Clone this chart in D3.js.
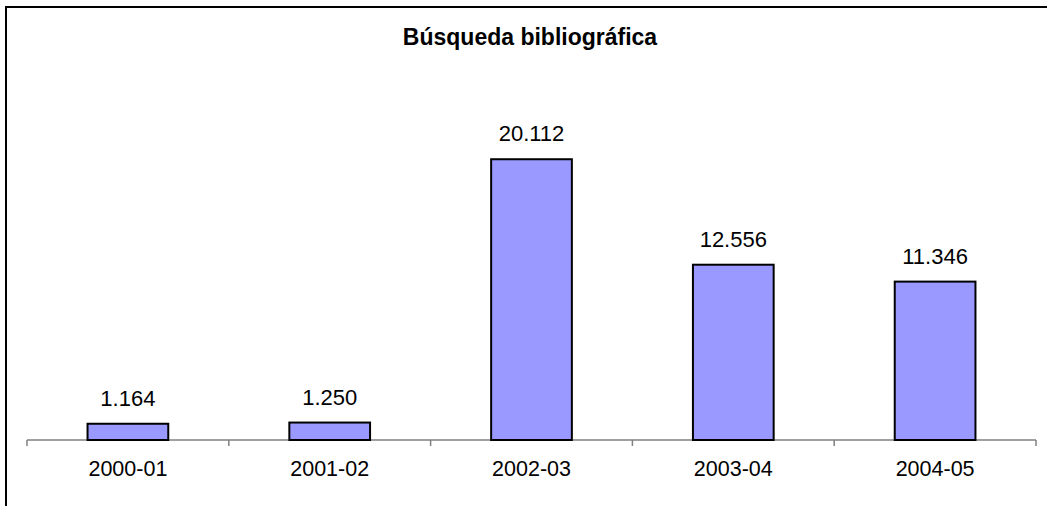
<!DOCTYPE html>
<html>
<head>
<meta charset="utf-8">
<script src="https://cdn.jsdelivr.net/npm/d3@7"></script>
<style>
  body { margin: 0; background: #fff; }
  svg { display: block; }
  text { font-family: Arial, "Liberation Sans", sans-serif; fill: #000; }
</style>
</head>
<body>
<svg id="chart" width="1047" height="506"></svg>
<script>
var categories = ["2000-01", "2001-02", "2002-03", "2003-04", "2004-05"];
var values = [1164, 1250, 20112, 12556, 11346];
var valueLabels = ["1.164", "1.250", "20.112", "12.556", "11.346"];
var chartTitle = "Búsqueda bibliográfica";

var svg = d3.select("#chart");

// outer frame (only left and top edges fall inside the picture)
svg.append("rect")
    .attr("x", 6).attr("y", 7)
    .attr("width", 1080).attr("height", 540)
    .attr("fill", "none")
    .attr("stroke", "#000")
    .attr("stroke-width", 2);

var x = d3.scaleBand()
    .domain(categories)
    .range([27, 1036])
    .paddingInner(0.6)
    .paddingOuter(0.3);

var y = d3.scaleLinear()
    .domain([0, 25000])
    .range([440, 91]);

// axis line with ticks at category boundaries
var edges = d3.range(categories.length + 1).map(function (i) { return 27 + i * (1036 - 27) / categories.length; });

svg.append("line")
    .attr("x1", 27).attr("x2", 1036)
    .attr("y1", y(0)).attr("y2", y(0))
    .attr("stroke", "#808080")
    .attr("stroke-width", 1.5);

svg.selectAll(".tick")
    .data(edges)
    .enter().append("line")
    .attr("x1", function (d) { return d; })
    .attr("x2", function (d) { return d; })
    .attr("y1", y(0))
    .attr("y2", y(0) + 6)
    .attr("stroke", "#808080")
    .attr("stroke-width", 1.5);

// bars
svg.selectAll(".bar")
    .data(values)
    .enter().append("rect")
    .attr("x", function (d, i) { return x(categories[i]); })
    .attr("y", function (d) { return y(d); })
    .attr("width", x.bandwidth())
    .attr("height", function (d) { return y(0) - y(d); })
    .attr("fill", "#9999ff")
    .attr("stroke", "#000")
    .attr("stroke-width", 2);

// value labels
svg.selectAll(".val")
    .data(values)
    .enter().append("text")
    .attr("x", function (d, i) { return x(categories[i]) + x.bandwidth() / 2; })
    .attr("y", function (d) { return y(d) - 18; })
    .attr("text-anchor", "middle")
    .style("font-size", "22px")
    .text(function (d, i) { return valueLabels[i]; });

// category labels
svg.selectAll(".cat")
    .data(categories)
    .enter().append("text")
    .attr("x", function (d) { return x(d) + x.bandwidth() / 2; })
    .attr("y", 476)
    .attr("text-anchor", "middle")
    .style("font-size", "21.5px")
    .text(function (d) { return d; });

// title
svg.append("text")
    .attr("x", 530)
    .attr("y", 45)
    .attr("text-anchor", "middle")
    .style("font-size", "23px")
    .style("font-weight", "bold")
    .text(chartTitle);
</script>
</body>
</html>
